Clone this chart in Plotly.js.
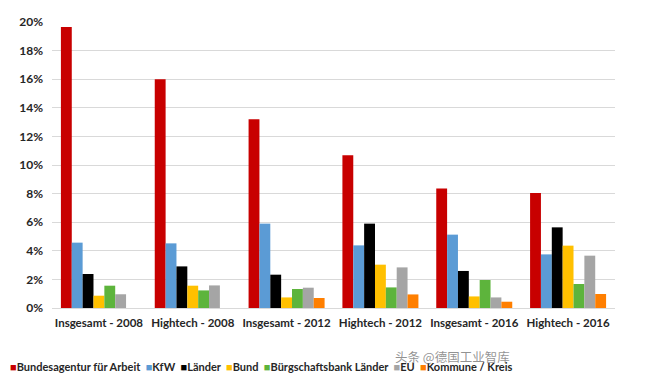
<!DOCTYPE html>
<html><head><meta charset="utf-8">
<script src="https://cdn.plot.ly/plotly-3.0.1.min.js"></script>
<style>html,body{margin:0;padding:0;background:#fff;}#chart{width:648px;height:380px;}</style>
</head><body><div id="chart"></div>
<script>
var categories = ["Insgesamt - 2008","Hightech - 2008","Insgesamt - 2012","Hightech - 2012","Insgesamt - 2016","Hightech - 2016"];
var seriesNames = ["Bundesagentur für Arbeit","KfW","Länder","Bund","Bürgschaftsbank Länder","EU","Kommune / Kreis"];
var seriesColors = ["#C80000","#5B9BD5","#000000","#FFC000","#5DB43C","#A5A5A5","#FF7F00"];
var bundesagentur = [0.1965,0.1600,0.1320,0.1069,0.0835,0.0805];
var kfw           = [0.0457,0.0452,0.0590,0.0438,0.0513,0.0375];
var laender       = [0.0238,0.0291,0.0233,0.0590,0.0259,0.0564];
var bund          = [0.0086,0.0156,0.0074,0.0303,0.0081,0.0436];
var buergschaft   = [0.0156,0.0123,0.0133,0.0144,0.0196,0.0168];
var eu            = [0.0096,0.0158,0.0142,0.0284,0.0074,0.0366];
var kommune       = [0.0000,0.0000,0.0070,0.0095,0.0044,0.0098];
var seriesValues = [bundesagentur,kfw,laender,bund,buergschaft,eu,kommune];
var yTicks = [0,0.02,0.04,0.06,0.08,0.10,0.12,0.14,0.16,0.18,0.20];
var yTickText = ["0%","2%","4%","6%","8%","10%","12%","14%","16%","18%","20%"];

var traces = seriesNames.map(function(n,i){
  return {type:"bar", name:n, x:categories, y:seriesValues[i],
          marker:{color:seriesColors[i]}, showlegend:false, hoverinfo:"none"};
});

var legendText = seriesNames.map(function(n,i){
  return '<span style="color:'+seriesColors[i]+'">■</span>'+n;
}).join('&nbsp;&nbsp;');

var layout = {
  width:648, height:380,
  margin:{l:52,r:33,t:22,b:72},
  paper_bgcolor:"#fff", plot_bgcolor:"#fff",
  barmode:"group", bargap:0.19, bargroupgap:0,
  font:{family:"Lato, 'Open Sans', sans-serif", color:"#404040"},
  xaxis:{tickfont:{size:11.5, family:"Lato", weight:"bold", color:"#262626"}, showgrid:false, zeroline:false, showline:false, ticks:"", ticklabelstandoff:6, fixedrange:true},
  yaxis:{range:[0,0.2], tickvals:yTicks, ticktext:yTickText, tickfont:{size:12, family:"Lato", weight:"bold", color:"#262626"},
         showgrid:true, gridcolor:"#D9D9D9", gridwidth:1, zeroline:true, zerolinecolor:"#D9D9D9", showline:false, ticks:"", ticklabelstandoff:8, fixedrange:true},
  annotations:[
    {xref:"paper", yref:"paper", x:-0.079, y:-0.205, xanchor:"left", yanchor:"middle", showarrow:false,
     text:legendText, font:{size:11, family:"Lato", weight:"bold", color:"#262626"}},
    {xref:"paper", yref:"paper", x:0.605, y:-0.17, xanchor:"left", yanchor:"middle", showarrow:false,
     text:"头条 @德国工业智库", font:{size:12.5, family:"Noto Sans CJK SC", color:"rgba(110,110,110,0.75)"}}
  ]
};
Plotly.newPlot("chart", traces, layout, {displayModeBar:false, staticPlot:true});
</script></body></html>
